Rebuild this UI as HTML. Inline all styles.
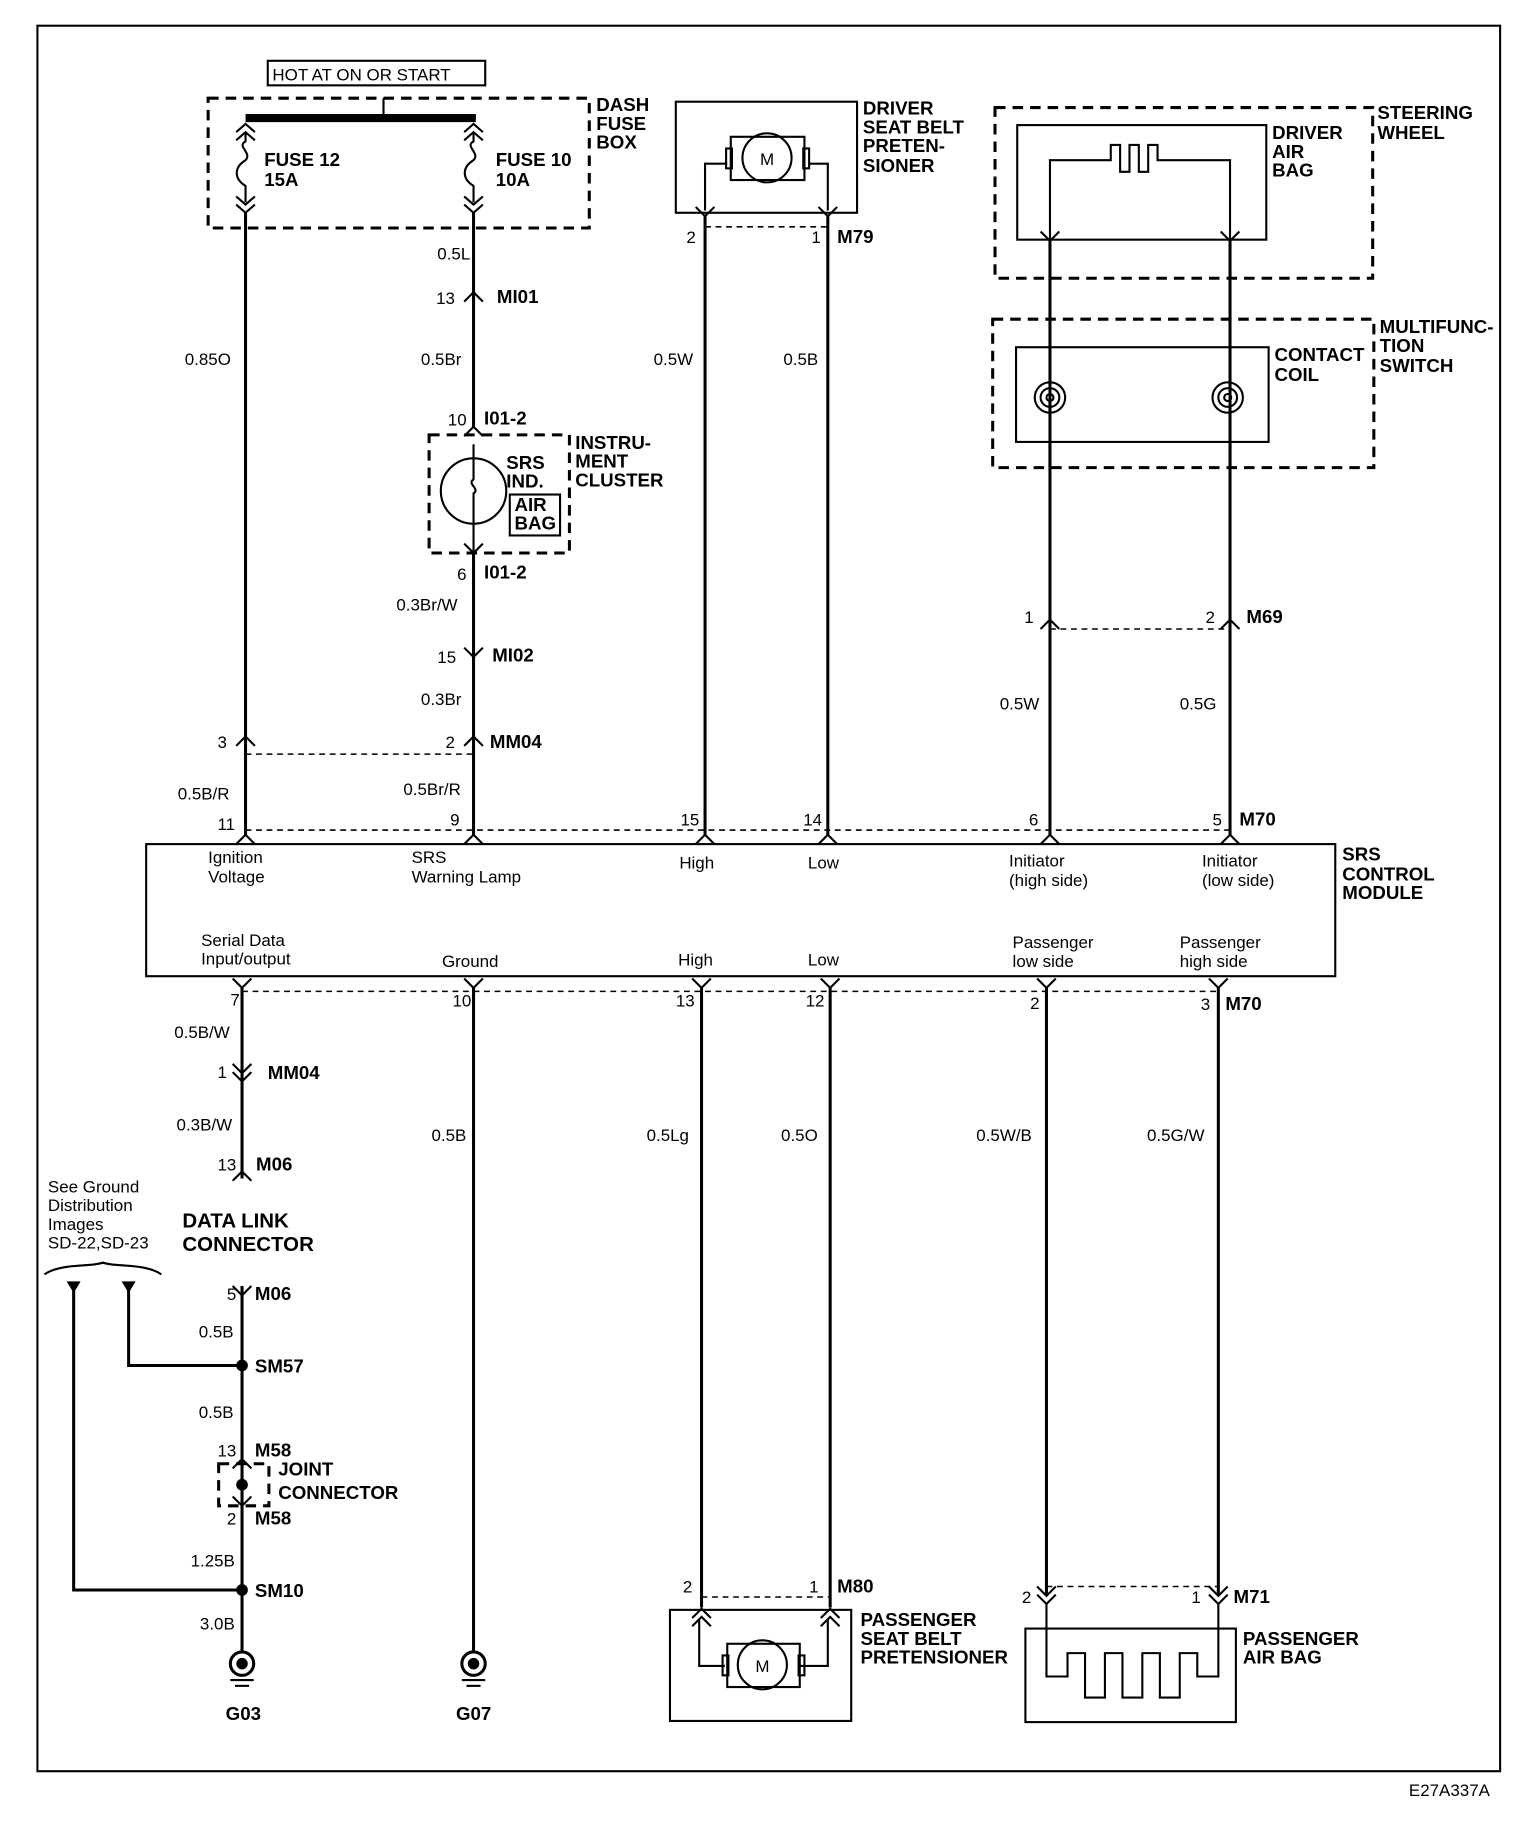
<!DOCTYPE html>
<html><head><meta charset="utf-8"><style>
html,body{margin:0;padding:0;background:#fff}
svg{display:block}
text{font-family:"Liberation Sans",Arial,sans-serif;font-size:14.5px;fill:#000}
.b{font-weight:bold;font-size:16px}
.w{stroke:#000;stroke-width:2.6;fill:none}
.t{stroke:#000;stroke-width:1.8;fill:none}
.d{stroke:#000;stroke-width:1.3;fill:none;stroke-dasharray:5,4}
.bx{stroke:#000;stroke-width:2.6;fill:none;stroke-dasharray:9,6}
</style></head><body>
<svg width="1520" height="1832" viewBox="0 0 1300 1567" preserveAspectRatio="none" xmlns="http://www.w3.org/2000/svg">
<rect x="32" y="22" width="1251" height="1493" class="t" stroke-width="1.6"/>
<text x="1205" y="1536" font-size="13">E27A337A</text>

<rect x="229" y="52" width="186" height="21" class="t" stroke-width="1.4"/>
<text x="233" y="69" font-size="15">HOT AT ON OR START</text>
<rect x="178" y="84" width="326" height="111" class="bx"/>
<line x1="328" y1="84" x2="328" y2="100" class="t"/>
<line x1="210" y1="101" x2="407" y2="101" stroke="#000" stroke-width="7"/>
<text x="510" y="95" class="b">DASH</text><text x="510" y="111" class="b">FUSE</text><text x="510" y="127" class="b">BOX</text>
<text x="226" y="142" class="b">FUSE 12</text><text x="226" y="159" class="b">15A</text>
<text x="424" y="142" class="b">FUSE 10</text><text x="424" y="159" class="b">10A</text>
<g class="t">
<polyline points="202,113 210,106 218,113"/><polyline points="202,120 210,113 218,120"/>
<path d="M210,113 v8 c-8,4 6,10 0,16 c-10,6 -10,16 0,22 v14"/>
<polyline points="202,168 210,175 218,168"/><polyline points="202,175 210,182 218,175"/>
<polyline points="397,113 405,106 413,113"/><polyline points="397,120 405,113 413,120"/>
<path d="M405,113 v8 c-8,4 6,10 0,16 c-10,6 -10,16 0,22 v14"/>
<polyline points="397,168 405,175 413,168"/><polyline points="397,175 405,182 413,175"/>
</g>

<g class="w">
<line x1="210" y1="182" x2="210" y2="715"/>
<line x1="405" y1="182" x2="405" y2="365"/>
<line x1="405" y1="473" x2="405" y2="715"/>
<line x1="603" y1="185" x2="603" y2="715"/>
<line x1="708" y1="185" x2="708" y2="715"/>
<line x1="898" y1="205" x2="898" y2="715"/>
<line x1="1052" y1="205" x2="1052" y2="715"/>
</g>
<text x="374" y="222">0.5L</text>
<text x="373" y="260">13</text><text x="425" y="259" class="b">MI01</text>
<polyline class="t" points="397,258 405,250 413,258"/>
<text x="158" y="312">0.85O</text>
<text x="360" y="312">0.5Br</text>
<text x="559" y="312">0.5W</text>
<text x="670" y="312">0.5B</text>

<text x="383" y="364">10</text><text x="414" y="363" class="b">I01-2</text>
<polyline class="t" points="397,373 405,365 413,373"/>
<rect x="367" y="372" width="120" height="101" class="bx" stroke-width="2"/>
<circle cx="405" cy="420" r="28" class="t"/>
<path d="M405,380 v30 c-6,4 6,8 0,12 v50" class="t"/>
<text x="433" y="401" class="b">SRS</text><text x="433" y="417" class="b">IND.</text>
<rect x="436" y="423" width="43" height="35" class="t"/>
<text x="440" y="437" class="b">AIR</text><text x="440" y="453" class="b">BAG</text>
<text x="492" y="384" class="b">INSTRU-</text><text x="492" y="400" class="b">MENT</text><text x="492" y="416" class="b">CLUSTER</text>
<polyline class="t" points="397,465 405,473 413,465"/>
<text x="391" y="496">6</text><text x="414" y="495" class="b">I01-2</text>
<text x="339" y="522">0.3Br/W</text>
<polyline class="t" points="397,554 405,562 413,554"/>
<text x="374" y="567">15</text><text x="421" y="566" class="b">MI02</text>
<text x="360" y="603">0.3Br</text>
<polyline class="t" points="202,638 210,630 218,638"/><polyline class="t" points="397,638 405,630 413,638"/>
<line x1="210" y1="645" x2="405" y2="645" class="d"/>
<text x="186" y="640">3</text><text x="381" y="640">2</text><text x="419" y="640" class="b">MM04</text>
<text x="152" y="684">0.5B/R</text><text x="345" y="680">0.5Br/R</text>
<text x="186" y="710">11</text><text x="385" y="706">9</text><text x="582" y="706">15</text><text x="687" y="706">14</text>
<text x="880" y="706">6</text><text x="1037" y="706">5</text><text x="1060" y="706" class="b">M70</text>
<line x1="210" y1="710" x2="1052" y2="710" class="d"/>
<g class="t">
<polyline points="202,722 210,714 218,722"/><polyline points="397,722 405,714 413,722"/>
<polyline points="595,722 603,714 611,722"/><polyline points="700,722 708,714 716,722"/>
<polyline points="890,722 898,714 906,722"/><polyline points="1044,722 1052,714 1060,722"/>
</g>

<rect x="578" y="87" width="155" height="95" class="t" stroke-width="2.4"/>
<rect x="625" y="117" width="63" height="37" class="t"/>
<rect x="621" y="127" width="5" height="17" class="t"/><rect x="687" y="127" width="5" height="17" class="t"/>
<circle cx="656" cy="135" r="21" fill="#fff" class="t"/>
<text x="650" y="141">M</text>
<polyline class="t" points="603,180 603,140 622,140"/><polyline class="t" points="708,180 708,140 692,140"/>
<polyline class="t" points="595,177 603,185 611,177"/><polyline class="t" points="700,177 708,185 716,177"/>
<line x1="603" y1="194" x2="708" y2="194" class="d"/>
<text x="587" y="208">2</text><text x="694" y="208">1</text><text x="716" y="208" class="b">M79</text>
<text x="738" y="98" class="b">DRIVER</text><text x="738" y="114" class="b">SEAT BELT</text><text x="738" y="130" class="b">PRETEN-</text><text x="738" y="147" class="b">SIONER</text>

<rect x="851" y="92" width="323" height="146" class="bx" stroke-width="2"/>
<rect x="870" y="107" width="213" height="98" class="t" stroke-width="2.4"/>
<polyline class="t" points="898,205 898,137 950,137 950,124 958,124 958,147 966,147 966,124 974,124 974,147 982,147 982,124 990,124 990,137 1052,137 1052,205"/>
<polyline class="t" points="890,198 898,206 906,198"/><polyline class="t" points="1044,198 1052,206 1060,198"/>
<text x="1088" y="119" class="b">DRIVER</text><text x="1088" y="135" class="b">AIR</text><text x="1088" y="151" class="b">BAG</text>
<text x="1178" y="102" class="b">STEERING</text><text x="1178" y="119" class="b">WHEEL</text>

<rect x="849" y="273" width="326" height="127" class="bx" stroke-width="2"/>
<rect x="869" y="297" width="216" height="81" class="t" stroke-width="2.4" fill="#fff"/>
<g class="t">
<circle cx="898" cy="340" r="13"/><circle cx="898" cy="340" r="8"/><circle cx="898" cy="340" r="3"/>
<circle cx="1050" cy="340" r="13"/><circle cx="1050" cy="340" r="8"/><circle cx="1050" cy="340" r="3"/>
</g>
<line x1="898" y1="378" x2="898" y2="400" class="w"/><line x1="1052" y1="378" x2="1052" y2="400" class="w"/>
<text x="1090" y="309" class="b">CONTACT</text><text x="1090" y="326" class="b">COIL</text>
<text x="1180" y="285" class="b">MULTIFUNC-</text><text x="1180" y="301" class="b">TION</text><text x="1180" y="318" class="b">SWITCH</text>

<polyline class="t" points="890,538 898,530 906,538"/><polyline class="t" points="1044,538 1052,530 1060,538"/>
<line x1="898" y1="538" x2="1052" y2="538" class="d"/>
<text x="876" y="533">1</text><text x="1031" y="533">2</text><text x="1066" y="533" class="b">M69</text>
<text x="855" y="607">0.5W</text><text x="1009" y="607">0.5G</text>

<rect x="125" y="722" width="1017" height="113" class="t" stroke-width="2.4" fill="none"/>
<text x="178" y="738">Ignition</text><text x="178" y="755">Voltage</text>
<text x="352" y="738">SRS</text><text x="352" y="755">Warning Lamp</text>
<text x="581" y="743">High</text><text x="691" y="743">Low</text>
<text x="863" y="741">Initiator</text><text x="863" y="758">(high side)</text>
<text x="1028" y="741">Initiator</text><text x="1028" y="758">(low side)</text>
<text x="1148" y="736" class="b">SRS</text><text x="1148" y="753" class="b">CONTROL</text><text x="1148" y="769" class="b">MODULE</text>
<text x="172" y="809">Serial Data</text><text x="172" y="825">Input/output</text>
<text x="378" y="827">Ground</text><text x="580" y="826">High</text><text x="691" y="826">Low</text>
<text x="866" y="811">Passenger</text><text x="866" y="827">low side</text>
<text x="1009" y="811">Passenger</text><text x="1009" y="827">high side</text>

<line x1="207" y1="848" x2="1042" y2="848" class="d"/>
<g class="t">
<polyline points="199,837 207,845 215,837"/><polyline points="397,837 405,845 413,837"/>
<polyline points="592,837 600,845 608,837"/><polyline points="702,837 710,845 718,837"/>
<polyline points="887,837 895,845 903,837"/><polyline points="1034,837 1042,845 1050,837"/>
</g>
<text x="197" y="860">7</text><text x="387" y="861">10</text><text x="578" y="861">13</text><text x="689" y="861">12</text>
<text x="881" y="863">2</text><text x="1027" y="864">3</text><text x="1048" y="864" class="b">M70</text>
<g class="w">
<line x1="207" y1="845" x2="207" y2="1008"/>
<line x1="405" y1="845" x2="405" y2="1412"/>
<line x1="600" y1="845" x2="600" y2="1375"/>
<line x1="710" y1="845" x2="710" y2="1375"/>
<line x1="895" y1="845" x2="895" y2="1365"/>
<line x1="1042" y1="845" x2="1042" y2="1365"/>
<line x1="207" y1="1100" x2="207" y2="1412"/>
</g>
<text x="149" y="888">0.5B/W</text>
<polyline class="t" points="199,910 207,918 215,910"/><polyline class="t" points="199,917 207,925 215,917"/>
<text x="186" y="922">1</text><text x="229" y="923" class="b">MM04</text>
<text x="151" y="967">0.3B/W</text>
<polyline class="t" points="199,1010 207,1002 215,1010"/>
<text x="186" y="1001">13</text><text x="219" y="1001" class="b">M06</text>
<text x="369" y="976">0.5B</text><text x="553" y="976">0.5Lg</text><text x="668" y="976">0.5O</text>
<text x="835" y="976">0.5W/B</text><text x="981" y="976">0.5G/W</text>

<text x="41" y="1020">See Ground</text><text x="41" y="1036">Distribution</text><text x="41" y="1052">Images</text><text x="41" y="1068">SD-22,SD-23</text>
<path d="M38,1090 c15,-10 40,-6 50,-10 c10,4 35,0 50,10" class="t" stroke-width="1.3"/>
<text x="156" y="1050" class="b" font-size="17" style="font-size:17.5px">DATA LINK</text><text x="156" y="1070" class="b" style="font-size:17.5px">CONNECTOR</text>
<polygon points="57,1096 69,1096 63,1106"/><polygon points="104,1096 116,1096 110,1106"/>
<polyline class="w" points="63,1100 63,1360 207,1360"/>
<polyline class="w" points="110,1100 110,1168 207,1168"/>
<polyline class="t" points="199,1100 207,1108 215,1100"/>
<text x="194" y="1112">5</text><text x="218" y="1112" class="b">M06</text>
<text x="170" y="1144">0.5B</text>
<circle cx="207" cy="1168" r="5"/><text x="218" y="1174" class="b">SM57</text>
<text x="170" y="1213">0.5B</text>
<text x="186" y="1246">13</text><text x="218" y="1246" class="b">M58</text>
<polyline class="t" points="199,1256 207,1248 215,1256"/>
<rect x="187" y="1252" width="43" height="36" class="bx" stroke-width="1.8"/>
<circle cx="207" cy="1270" r="5"/>
<polyline class="t" points="199,1280 207,1288 215,1280"/>
<text x="238" y="1262" class="b">JOINT</text><text x="238" y="1282" class="b">CONNECTOR</text>
<text x="194" y="1304">2</text><text x="218" y="1304" class="b">M58</text>
<text x="163" y="1340">1.25B</text>
<circle cx="207" cy="1360" r="5"/><text x="218" y="1366" class="b">SM10</text>
<text x="171" y="1394">3.0B</text>
<g class="t">
<circle cx="207" cy="1423" r="10" stroke-width="2.6"/><circle cx="207" cy="1423" r="4" fill="#000"/>
<line x1="197" y1="1437" x2="217" y2="1437"/><line x1="201" y1="1442" x2="213" y2="1442"/>
<circle cx="405" cy="1423" r="10" stroke-width="2.6"/><circle cx="405" cy="1423" r="4" fill="#000"/>
<line x1="395" y1="1437" x2="415" y2="1437"/><line x1="399" y1="1442" x2="411" y2="1442"/>
</g>
<text x="193" y="1471" class="b">G03</text><text x="390" y="1471" class="b">G07</text>

<line x1="600" y1="1366" x2="710" y2="1366" class="d"/>
<text x="584" y="1362">2</text><text x="692" y="1362">1</text><text x="716" y="1362" class="b">M80</text>
<rect x="573" y="1377" width="155" height="95" class="t" stroke-width="2.4"/>
<polyline class="t" points="592,1384 600,1376 608,1384"/><polyline class="t" points="592,1391 600,1383 608,1391"/>
<polyline class="t" points="702,1384 710,1376 718,1384"/><polyline class="t" points="702,1391 710,1383 718,1391"/>
<polyline class="t" points="598,1385 598,1425 620,1425"/><polyline class="t" points="708,1385 708,1425 684,1425"/>
<rect x="622" y="1406" width="62" height="37" class="t"/>
<rect x="618" y="1416" width="5" height="17" class="t"/><rect x="683" y="1416" width="5" height="17" class="t"/>
<circle cx="652" cy="1424" r="21" fill="#fff" class="t"/>
<text x="646" y="1430">M</text>
<text x="736" y="1391" class="b">PASSENGER</text><text x="736" y="1407" class="b">SEAT BELT</text><text x="736" y="1423" class="b">PRETENSIONER</text>

<line x1="895" y1="1357" x2="1042" y2="1357" class="d"/>
<polyline class="t" points="887,1357 895,1365 903,1357"/><polyline class="t" points="887,1364 895,1372 903,1364"/>
<polyline class="t" points="1034,1357 1042,1365 1050,1357"/><polyline class="t" points="1034,1364 1042,1372 1050,1364"/>
<text x="874" y="1371">2</text><text x="1019" y="1371">1</text><text x="1055" y="1371" class="b">M71</text>
<rect x="877" y="1393" width="180" height="80" class="t" stroke-width="2.4"/>
<polyline class="t" points="895,1372 895,1434 913,1434 913,1414 928,1414 928,1452 945,1452 945,1414 960,1414 960,1452 977,1452 977,1414 992,1414 992,1452 1009,1452 1009,1414 1024,1414 1024,1434 1042,1434 1042,1372"/>
<text x="1063" y="1407" class="b">PASSENGER</text><text x="1063" y="1423" class="b">AIR BAG</text>
</svg>
</body></html>
